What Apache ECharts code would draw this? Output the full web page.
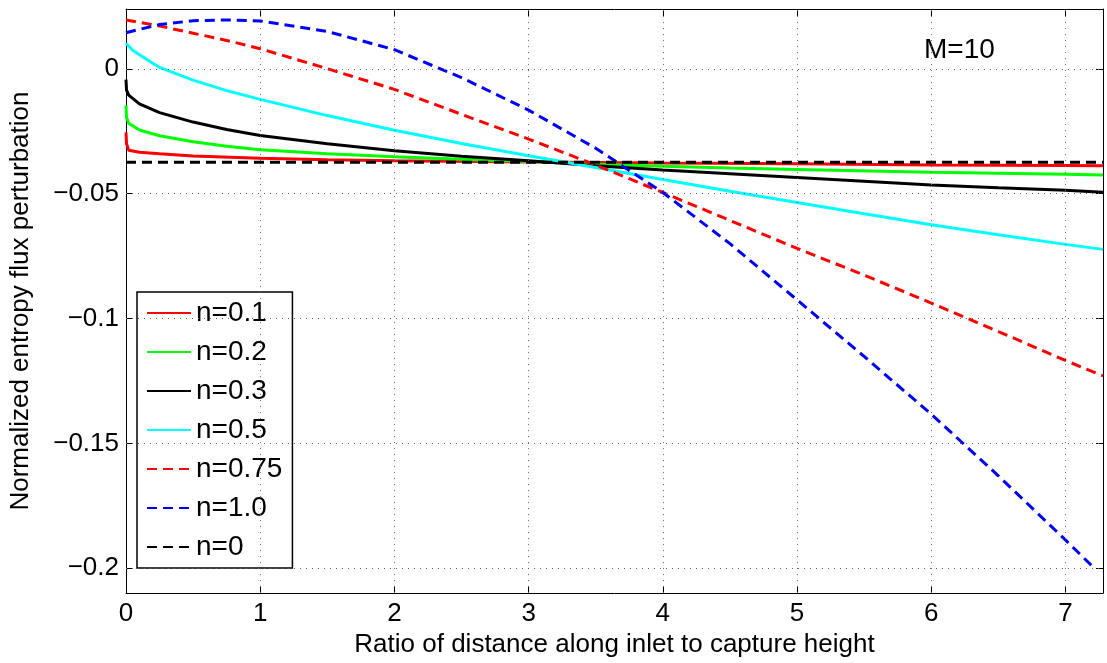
<!DOCTYPE html>
<html>
<head>
<meta charset="utf-8">
<script src="https://cdn.jsdelivr.net/npm/echarts@6/dist/echarts.min.js"></script>
<style>html,body{margin:0;padding:0;background:#fff}#c{width:1107px;height:663px}</style>
</head>
<body>
<div id="c"></div>
<script>
const xTicks = [0, 1, 2, 3, 4, 5, 6, 7];
const yTicks = [-0.2, -0.15, -0.1, -0.05, 0];
const xRange = [0, 7.28];
const yRange = [-0.21, 0.024];

const names = ['n=0.1', 'n=0.2', 'n=0.3', 'n=0.5', 'n=0.75', 'n=1.0', 'n=0'];

const x01 = [0, 0.004, 0.02, 0.1, 0.25, 0.5, 1, 1.5, 2, 3, 4, 5, 6, 7, 7.28];
const y01 = [-0.0254, -0.0300, -0.0326, -0.0334, -0.0340, -0.0349, -0.0358, -0.0364, -0.0368, -0.0373, -0.0377, -0.0380, -0.0385, -0.0387, -0.0388];

const x02 = [0, 0.004, 0.02, 0.1, 0.25, 0.5, 0.75, 1, 1.5, 2, 2.5, 3, 3.5, 4, 4.5, 5, 6, 7, 7.28];
const y02 = [-0.0146, -0.0195, -0.0218, -0.0245, -0.0268, -0.0292, -0.0310, -0.0324, -0.0340, -0.0352, -0.0362, -0.0371, -0.0382, -0.0390, -0.0397, -0.0403, -0.0414, -0.0422, -0.0425];

const x03 = [0, 0.004, 0.02, 0.1, 0.25, 0.5, 0.75, 1, 1.5, 2, 2.5, 3, 3.5, 4, 4.5, 5, 5.5, 6, 6.5, 7, 7.28];
const y03 = [-0.0043, -0.0085, -0.0105, -0.0140, -0.0175, -0.0213, -0.0243, -0.0267, -0.0300, -0.0328, -0.0350, -0.0368, -0.0388, -0.0405, -0.0420, -0.0435, -0.0450, -0.0465, -0.0476, -0.0486, -0.0494];

const x05 = [0, 0.05, 0.1, 0.25, 0.5, 0.75, 1, 1.5, 2, 2.5, 3, 3.5, 4, 4.5, 5, 5.5, 6, 6.5, 7, 7.28];
const y05 = [0.0103, 0.0075, 0.0057, 0.0006, -0.0045, -0.0087, -0.0122, -0.0187, -0.0246, -0.0299, -0.0348, -0.0395, -0.0443, -0.0490, -0.0535, -0.0580, -0.0624, -0.0664, -0.0703, -0.0723];

const x075 = [0, 0.25, 0.5, 0.75, 1, 1.5, 2, 2.5, 3, 3.5, 4, 4.5, 5, 5.5, 6, 6.5, 7, 7.28];
const y075 = [0.0196, 0.0172, 0.0143, 0.0114, 0.0081, 0.0001, -0.0082, -0.0182, -0.0281, -0.0385, -0.0495, -0.0607, -0.0719, -0.0826, -0.0938, -0.1052, -0.1168, -0.1230];

const x10 = [0, 0.25, 0.5, 0.75, 1, 1.5, 2, 2.5, 3, 3.5, 4, 4.5, 5, 5.5, 6, 6.5, 7, 7.215];
const y10 = [0.0145, 0.0178, 0.0193, 0.0196, 0.0192, 0.0150, 0.0077, -0.0035, -0.0165, -0.0318, -0.0495, -0.0700, -0.0925, -0.1152, -0.1383, -0.1630, -0.1887, -0.2000];

const x00 = [0, 7.28];
const y00 = [-0.0374, -0.0374];

const xs = [x01, x02, x03, x05, x075, x10, x00];
const ys = [y01, y02, y03, y05, y075, y10, y00];
const colors = ['#ff0000', '#00ff00', '#000000', '#00ffff', '#ff0000', '#0000ff', '#000000'];
const dashed = [false, false, false, false, true, true, true];

const FONT = '"Liberation Sans", Arial, Helvetica, sans-serif';
const fmt = v => (v < 0 ? '\u2212' + String(Math.abs(v)) : String(v));

const chart = echarts.init(document.getElementById('c'), null, {renderer: 'canvas'});

const series = [{
  name: '__grid',
  type: 'line',
  data: [],
  silent: true,
  animation: false,
  markLine: {
    silent: true,
    symbol: 'none',
    label: {show: false},
    animation: false,
    lineStyle: {color: '#666', width: 1, type: [1, 5]},
    data: xTicks.slice(1).map(v => ({xAxis: v})).concat(yTicks.map(v => ({yAxis: v})))
  }
}];
names.forEach((n, i) => {
  series.push({
    name: n,
    type: 'line',
    data: xs[i].map((x, k) => [x, ys[i][k]]),
    showSymbol: false,
    symbol: 'none',
    smooth: false,
    animation: false,
    clip: true,
    lineStyle: {color: colors[i], width: 3, type: dashed[i] ? [10, 6] : 'solid'},
    itemStyle: {color: colors[i]}
  });
});

const axisCommon = {
  axisLine: {show: true, onZero: false, lineStyle: {color: '#000', width: 1}},
  splitLine: {show: false}
};

chart.setOption({
  backgroundColor: '#fff',
  animation: false,
  textStyle: {fontFamily: FONT},
  grid: {left: 125, right: 4, top: 9, bottom: 66, containLabel: false},
  xAxis: [{
    type: 'value', min: xRange[0], max: xRange[1], position: 'bottom',
    ...axisCommon,
    axisTick: {show: true, inside: true, length: 7, customValues: xTicks, lineStyle: {color: '#000'}},
    axisLabel: {show: true, customValues: xTicks, formatter: fmt, fontSize: 26, color: '#000', margin: 8, fontFamily: FONT},
    name: 'Ratio of distance along inlet to capture height',
    nameLocation: 'middle', nameGap: 35,
    nameTextStyle: {fontSize: 26, color: '#000', fontFamily: FONT}
  }, {
    type: 'value', min: xRange[0], max: xRange[1], position: 'top',
    ...axisCommon,
    axisTick: {show: true, inside: true, length: 7, customValues: xTicks, lineStyle: {color: '#000'}},
    axisLabel: {show: false}
  }],
  yAxis: [{
    type: 'value', min: yRange[0], max: yRange[1], position: 'left',
    ...axisCommon,
    axisTick: {show: true, inside: true, length: 7, customValues: yTicks, lineStyle: {color: '#000'}},
    axisLabel: {show: true, customValues: yTicks, formatter: fmt, fontSize: 26, color: '#000', margin: 7, fontFamily: FONT},
    name: 'Normalized entropy flux perturbation',
    nameLocation: 'middle', nameGap: 92, nameRotate: 90,
    nameTextStyle: {fontSize: 26, color: '#000', fontFamily: FONT}
  }, {
    type: 'value', min: yRange[0], max: yRange[1], position: 'right',
    ...axisCommon,
    axisTick: {show: true, inside: true, length: 7, customValues: yTicks, lineStyle: {color: '#000'}},
    axisLabel: {show: false}
  }],
  legend: {
    data: names,
    orient: 'vertical',
    left: 137, top: 292,
    padding: [7, 10, 7, 9],
    itemGap: 11,
    itemWidth: 44, itemHeight: 14,
    itemStyle: {opacity: 0},
    backgroundColor: '#fff',
    borderColor: '#000', borderWidth: 1.5, borderRadius: 0,
    textStyle: {fontSize: 28, color: '#000', fontFamily: FONT},
    selectedMode: false
  },
  graphic: [{
    type: 'text', left: 924, top: 36,
    style: {text: 'M=10', font: '28px ' + FONT, fill: '#000'}
  }],
  series: series
});
</script>
</body>
</html>
